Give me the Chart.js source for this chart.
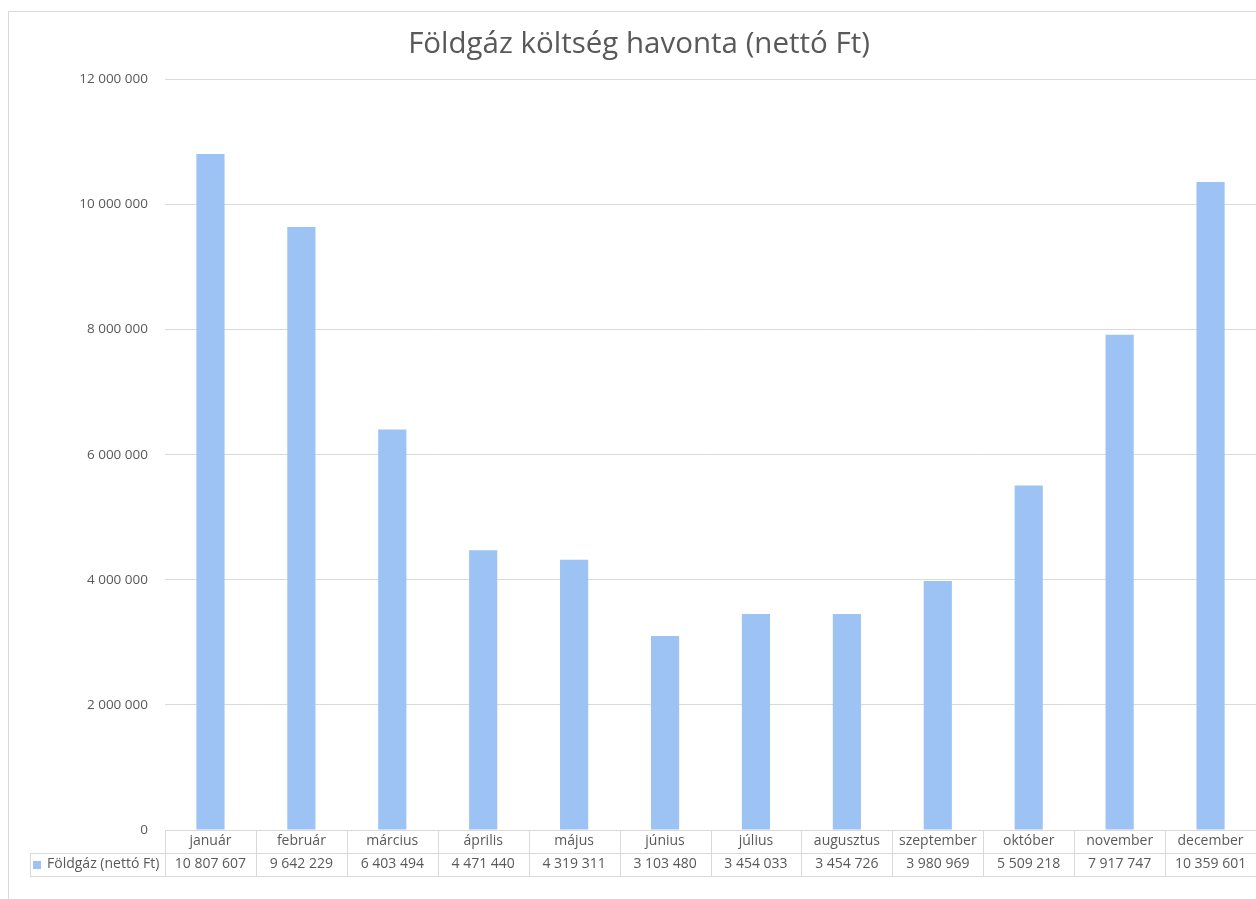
<!DOCTYPE html>
<html>
<head>
<meta charset="utf-8">
<script src="https://cdn.jsdelivr.net/npm/chart.js@4"></script>
<style>
  html, body { margin: 0; padding: 0; background: #fff; overflow: hidden; }
  #keret { position: absolute; left: 8px; top: 11px; width: 1400px; height: 1000px; border: 1px solid #d9d9d9; box-sizing: border-box; }
  #doboz { position: absolute; left: 0; top: 0; width: 1256px; height: 899px; }
</style>
</head>
<body>
<div id="keret"></div>
<div id="doboz"><canvas id="grafikon"></canvas></div>
<script>
const honapok = ['január', 'február', 'március', 'április', 'május', 'június', 'július', 'augusztus', 'szeptember', 'október', 'november', 'december'];
const foldgazKoltseg = [10807607, 9642229, 6403494, 4471440, 4319311, 3103480, 3454033, 3454726, 3980969, 5509218, 7917747, 10359601];
const sorozatNev = 'Földgáz (nettó Ft)';
const yMax = 12000000;
const yLepes = 2000000;

const szurke = '#595959';
const racs = '#d9d9d9';
const kek = '#9dc3f5';
const betu = '"Open Sans", "Noto Sans", sans-serif';

function ezres(n) {
  return String(n).replace(/\B(?=(\d{3})+(?!\d))/g, ' ');
}

// adattábla a tengely alatt, Excel-szerűen
const adatTabla = {
  id: 'adatTabla',
  afterDraw(chart) {
    const ctx = chart.ctx;
    const x = chart.scales.x;
    const fent = chart.chartArea.bottom;
    const sorMag = 23;
    const bal = x.left;
    const jobb = x.right;
    const cella = x.width / honapok.length;
    const legBal = 30;

    ctx.save();
    ctx.strokeStyle = racs;
    ctx.lineWidth = 1;
    ctx.beginPath();
    ctx.moveTo(bal, fent + 0.5); ctx.lineTo(jobb, fent + 0.5);
    ctx.moveTo(legBal, fent + sorMag + 0.5); ctx.lineTo(jobb, fent + sorMag + 0.5);
    ctx.moveTo(legBal, fent + 2 * sorMag + 0.5); ctx.lineTo(jobb, fent + 2 * sorMag + 0.5);
    ctx.moveTo(legBal + 0.5, fent + sorMag); ctx.lineTo(legBal + 0.5, fent + 2 * sorMag);
    for (let i = 0; i <= honapok.length; i++) {
      const px = Math.round(bal + i * cella) + 0.5;
      ctx.moveTo(px, fent); ctx.lineTo(px, fent + 2 * sorMag);
    }
    ctx.stroke();

    ctx.fillStyle = szurke;
    ctx.font = '14px ' + betu;
    ctx.textAlign = 'center';
    ctx.textBaseline = 'middle';
    honapok.forEach((h, i) => {
      const cx = x.getPixelForValue(i);
      ctx.fillText(h, cx, fent + sorMag / 2);
      ctx.fillText(ezres(foldgazKoltseg[i]), cx, fent + sorMag * 1.5);
    });

    ctx.fillStyle = kek;
    ctx.fillRect(33, fent + sorMag + 8, 8, 8);
    ctx.fillStyle = szurke;
    ctx.textAlign = 'left';
    ctx.fillText(sorozatNev, 47, fent + sorMag * 1.5);
    ctx.restore();
  }
};

new Chart(document.getElementById('grafikon'), {
  type: 'bar',
  data: {
    labels: honapok,
    datasets: [{
      label: sorozatNev,
      data: foldgazKoltseg,
      backgroundColor: kek,
      borderWidth: 0,
      categoryPercentage: 1,
      barPercentage: 0.31
    }]
  },
  options: {
    responsive: true,
    maintainAspectRatio: false,
    animation: false,
    layout: { padding: { left: 22, right: 0, top: 0, bottom: 69 } },
    plugins: {
      legend: { display: false },
      tooltip: { enabled: false },
      title: {
        display: true,
        text: 'Földgáz költség havonta (nettó Ft)',
        color: szurke,
        font: { family: betu, size: 29.5, weight: 'normal' },
        padding: { top: 27, bottom: 17 }
      }
    },
    scales: {
      x: { display: false },
      y: {
        min: 0,
        max: yMax,
        afterFit(scale) { scale.width = 143; },
        border: { display: false },
        grid: { color: racs, drawTicks: false },
        ticks: {
          stepSize: yLepes,
          padding: 17,
          color: szurke,
          font: { family: betu, size: 13.5 },
          callback: (v) => ezres(v)
        }
      }
    }
  },
  plugins: [adatTabla]
});
</script>
</body>
</html>
